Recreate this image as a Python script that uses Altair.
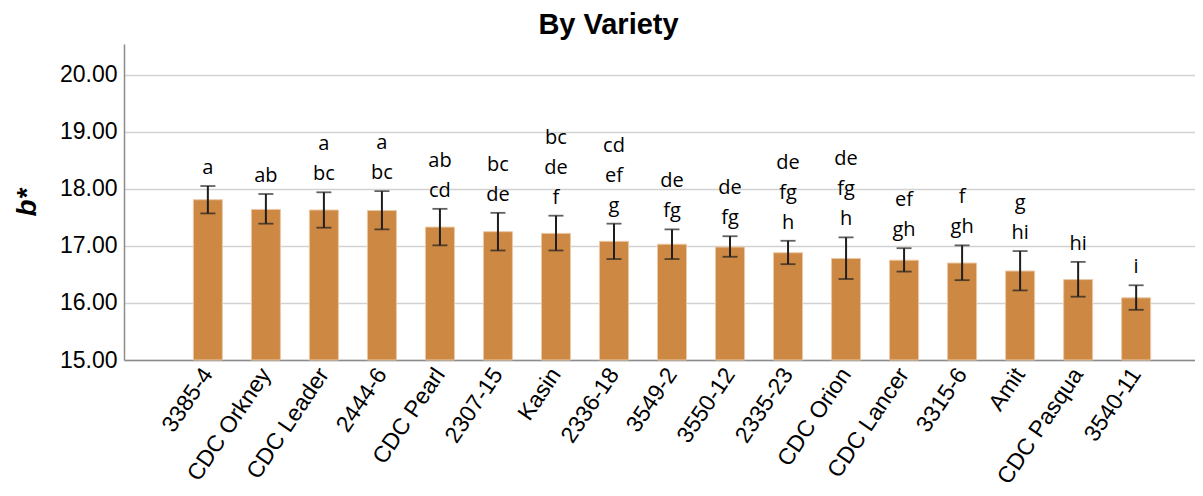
import altair as alt
import pandas as pd

varieties = ["3385-4", "CDC Orkney", "CDC Leader", "2444-6", "CDC Pearl", "2307-15",
             "Kasin", "2336-18", "3549-2", "3550-12", "2335-23", "CDC Orion",
             "CDC Lancer", "3315-6", "Amit", "CDC Pasqua", "3540-11"]
means = [17.81, 17.64, 17.63, 17.62, 17.33, 17.25, 17.22, 17.08, 17.03, 16.98,
         16.88, 16.78, 16.75, 16.70, 16.56, 16.41, 16.09]
err_low = [17.57, 17.39, 17.32, 17.29, 17.01, 16.92, 16.92, 16.77, 16.77, 16.81,
           16.68, 16.42, 16.55, 16.40, 16.22, 16.11, 15.88]
err_high = [18.05, 17.91, 17.94, 17.96, 17.65, 17.58, 17.53, 17.39, 17.29, 17.17,
            17.09, 17.15, 16.96, 17.01, 16.91, 16.72, 16.31]
letters = ["a", "ab", "a|bc", "a|bc", "ab|cd", "bc|de", "bc|de|f", "cd|ef|g", "de|fg",
           "de|fg", "de|fg|h", "de|fg|h", "ef|gh", "f|gh", "g|hi", "hi", "i"]
y_ticks = [15, 16, 17, 18, 19, 20]

df = pd.DataFrame({"variety": varieties, "mean": means, "lo": err_low,
                   "hi": err_high, "letters": letters})

xscale = alt.Scale(domain=varieties, paddingInner=0.5, paddingOuter=0.98, align=0.61)
yscale = alt.Scale(domain=[15, 20.54], nice=False, zero=False)

x = alt.X("variety:N", scale=xscale, sort=varieties, title=None,
          axis=alt.Axis(labelAngle=-56, labelFont="Liberation Sans", labelFontSize=23,
                        labelColor="#000000", ticks=False, labelPadding=10,
                        domainColor="#8c8c8c", domainWidth=1.5, labelAlign="right",
                        labelBaseline="middle", labelLimit=300))
y_axis = alt.Axis(values=y_ticks, format=".2f", labelFont="Liberation Sans",
                  labelFontSize=23, labelColor="#000000", ticks=False, labelPadding=7,
                  domainColor="#8c8c8c", domainWidth=1.5, gridColor="#d2d2d2",
                  gridWidth=1.5, title="b*", titleFont="Liberation Sans",
                  titleFontSize=28, titleFontWeight="bold", titleFontStyle="italic",
                  titleColor="#000000", titleAngle=270, titleBaseline="alphabetic",
                  titleX=-89, titleY=158, titleAlign="center")

base = alt.Chart(df)
xs = alt.X("variety:N", scale=xscale, sort=varieties)

bars = base.mark_bar(color="#CD8843", stroke="#EBC8A4", strokeWidth=1).encode(
    x=x, y=alt.Y("mean:Q", scale=yscale, axis=y_axis), y2=alt.datum(15))

rules = base.mark_rule(color="#1e1e1e", strokeWidth=2).encode(
    x=xs, y=alt.Y("lo:Q", scale=yscale), y2="hi:Q")

caps_hi = base.mark_tick(color="#1e1e1e", size=15, thickness=1.8).encode(
    x=xs, y=alt.Y("hi:Q", scale=yscale))
caps_lo = base.mark_tick(color="#1e1e1e", size=15, thickness=1.8).encode(
    x=xs, y=alt.Y("lo:Q", scale=yscale))

# significance letters: one layer per line, counted from the bottom line
letter_layers = []
for k in range(3):
    expr = ("length(split(datum.letters, '|')) > {k} ? "
            "split(datum.letters, '|')[length(split(datum.letters, '|')) - 1 - {k}] : ''"
            ).format(k=k)
    letter_layers.append(
        base.transform_calculate(line=expr).mark_text(
            font="Open Sans", fontSize=20, color="#000000", baseline="alphabetic",
            align="center", dy=-12 - 30 * k).encode(
            x=xs, y=alt.Y("hi:Q", scale=yscale), text="line:N"))

chart = alt.layer(bars, rules, caps_hi, caps_lo, *letter_layers).properties(
    width=1071, height=316,
    title=alt.TitleParams("By Variety", font="Liberation Sans", fontSize=29,
                          fontWeight="bold", color="#000000", anchor="middle",
                          baseline="alphabetic", offset=9, dx=-51, dy=28),
    autosize=alt.AutoSizeParams(type="none"),
    padding={"left": 116, "top": 36, "right": 0, "bottom": 128},
).configure_view(stroke=None).configure_axis(grid=True).configure_axisX(grid=False)

chart.save("out.html", embed_options={"renderer": "svg", "actions": False})
